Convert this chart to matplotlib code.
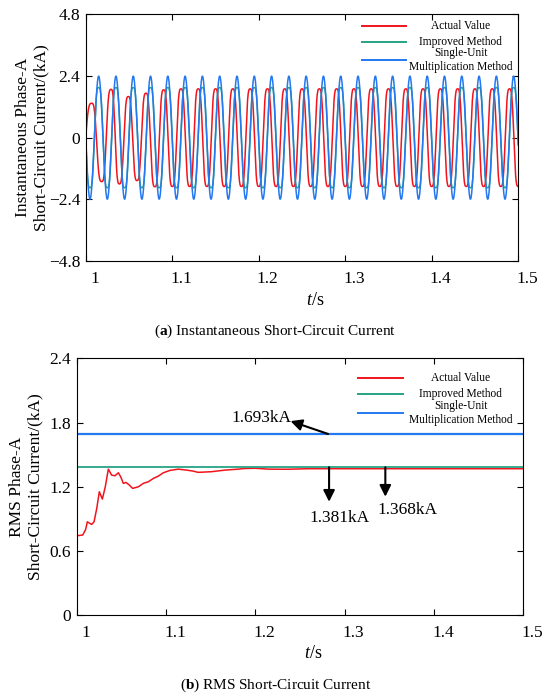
import numpy as np
import matplotlib
matplotlib.use("Agg")
import matplotlib.pyplot as plt
from matplotlib.transforms import ScaledTranslation

plt.rcParams['font.family'] = ['Liberation Serif', 'DejaVu Serif']
plt.rcParams['mathtext.fontset'] = 'custom'
plt.rcParams['mathtext.rm'] = 'Liberation Serif'
plt.rcParams['mathtext.it'] = 'Liberation Serif:italic'
plt.rcParams['mathtext.bf'] = 'Liberation Serif:bold'

RED = '#f2141c'
GREEN = '#26a387'
BLUE = '#2479f0'

labels = ["Actual Value", "Improved Method", "Single-Unit\nMultiplication Method"]

# ---- (a) instantaneous current: extremes (time, value) ----
# actual value, transient part (half-cycle extremes)
red_ext_t = [0.9931, 1.0069, 1.0185, 1.0293, 1.0389, 1.0493, 1.0593, 1.0697, 1.0800, 1.0902]
red_ext_v = [-1.34, 1.34, -1.71, 1.88, -1.80, 1.60, -1.67, 1.73, -1.91, 1.86]
red_steady_peak = 1.90
red_steady_start = 1.1002     # first steady trough
freq = 50.0                   # Hz
imp_peak = 1.95               # improved method peak (kA)
sum_peak = 2.394              # single-unit multiplication peak (kA)
ref_peak_t = 0.995            # a peak time of improved / single-unit waveforms

# ---- (b) RMS current ----
rms_t = [1.0000, 1.0067, 1.0100, 1.0119, 1.0140, 1.0167, 1.0194, 1.0225, 1.0253, 1.0287,
         1.0320, 1.0354, 1.0391, 1.0429, 1.0466, 1.0492, 1.0522, 1.0552, 1.0589, 1.0626,
         1.0690, 1.0746, 1.0802, 1.0858, 1.0914, 1.0970, 1.1044, 1.1137, 1.1230, 1.1300,
         1.1360, 1.1510, 1.1660, 1.1810, 1.1880, 1.2000, 1.2150, 1.2350, 1.2600, 1.3000,
         1.4000, 1.5000]
rms_v = [0.741, 0.748, 0.800, 0.872, 0.860, 0.847, 0.872, 1.000, 1.153, 1.084,
         1.200, 1.364, 1.308, 1.302, 1.330, 1.293, 1.231, 1.240, 1.215, 1.184,
         1.199, 1.231, 1.246, 1.277, 1.299, 1.330, 1.352, 1.364, 1.355, 1.346,
         1.334, 1.340, 1.355, 1.364, 1.370, 1.372, 1.364, 1.363, 1.368, 1.368,
         1.368, 1.368]
rms_improved = 1.381
rms_single = 1.693


def wave(ext_t, ext_v, flat=0.0, n=30):
    """Join successive extremes with half-cycle shapes (flat > 0 flattens the tops)."""
    ts, vs = [], []
    s = np.linspace(0, 1, n, endpoint=False)
    shape = (-np.cos(np.pi * s) + flat * np.cos(3 * np.pi * s)) / (1 - flat)
    for i in range(len(ext_t) - 1):
        ts.append(ext_t[i] + s * (ext_t[i + 1] - ext_t[i]))
        vs.append(ext_v[i] + (ext_v[i + 1] - ext_v[i]) * (shape + 1) / 2)
    ts.append([ext_t[-1]])
    vs.append([ext_v[-1]])
    return np.concatenate(ts), np.concatenate(vs)


half = 0.5 / freq
# actual value: transient extremes followed by steady alternating extremes
st_t = np.arange(red_steady_start, 1.5 + half, half)
st_v = red_steady_peak * np.where(np.arange(len(st_t)) % 2 == 0, -1, 1)
t_red, v_red = wave(red_ext_t + list(st_t), red_ext_v + list(st_v), flat=0.1)
# improved / single-unit: steady sinusoids
ref_t = np.arange(ref_peak_t, 1.5 + 2 * half, half)
sign = np.where(np.arange(len(ref_t)) % 2 == 0, 1, -1)
t_imp, v_imp = wave(list(ref_t), list(imp_peak * sign), flat=0.1)
t_sum, v_sum = wave(list(ref_t), list(sum_peak * sign), flat=0.0)

fig = plt.figure(figsize=(5.5, 6.97), dpi=100)
ax1 = fig.add_axes([0.1558, 0.6255, 0.786, 0.354])
ax2 = fig.add_axes([0.1395, 0.1176, 0.8118, 0.3683])

ax1.plot(t_red, v_red, color=RED, lw=1.1)
ax1.plot(t_imp, v_imp, color=GREEN, lw=1.1)
ax1.plot(t_sum, v_sum, color=BLUE, lw=1.1)
ax1.set_ylim(-4.8, 4.8)
ax1.set_yticks([-4.8, -2.4, 0, 2.4, 4.8])
ax1.set_yticklabels(['\u22124.8', '\u22122.4', '0', '2.4', '4.8'])
ax1.set_ylabel("Instantaneous Phase-A\nShort-Circuit Current/(kA)", fontsize=12.5)
ax1.yaxis.set_label_coords(-0.083, 0.5)

ax2.plot(rms_t, rms_v, color=RED, lw=1.1)
ax2.plot([1.0, 1.5], [rms_improved, rms_improved], color=GREEN, lw=1.3)
ax2.plot([1.0, 1.5], [rms_single, rms_single], color=BLUE, lw=1.6)
ax2.set_ylim(0, 2.4)
ax2.set_yticks([0, 0.6, 1.2, 1.8, 2.4])
ax2.set_yticklabels(['0', '0.6', '1.2', '1.8', '2.4'])
ax2.set_ylabel("RMS Phase-A\nShort-Circuit Current/(kA)", fontsize=12.5)
ax2.yaxis.set_label_coords(-0.075, 0.5)

# annotations
arrow = dict(arrowstyle='-|>', color='black', lw=1.5, mutation_scale=17, shrinkA=0, shrinkB=0)
ax2.annotate('', xy=(1.2394, 1.813), xytext=(1.2814, rms_single), arrowprops=arrow)
ax2.annotate('', xy=(1.2826, 1.059), xytext=(1.2826, rms_improved), arrowprops=arrow)
ax2.annotate('', xy=(1.3456, 1.106), xytext=(1.3456, rms_improved), arrowprops=arrow)
ax2.text(1.2069, 1.844, "1.693kA", fontsize=12.5, ha='center', va='center')
ax2.text(1.2945, 0.904, "1.381kA", fontsize=12.5, ha='center', va='center')
ax2.text(1.370, 0.981, "1.368kA", fontsize=12.5, ha='center', va='center')

shift = ScaledTranslation(0.09, 0, fig.dpi_scale_trans)
legend_pos = {
    ax1: (0.6385, 0.741, 0.868, [0.9526, 0.8877, 0.8148]),
    ax2: (0.6293, 0.7315, 0.860, [0.922, 0.861, 0.788]),
}
for ax in (ax1, ax2):
    ax.set_xlim(1.0, 1.5)
    ax.set_xticks([1.0, 1.1, 1.2, 1.3, 1.4, 1.5])
    ax.set_xticklabels(['1', '1.1', '1.2', '1.3', '1.4', '1.5'])
    ax.tick_params(direction='in', top=True, right=True, length=4, width=0.8,
                   labelsize=12.5)
    ax.tick_params(axis='x', pad=7)
    ax.tick_params(axis='y', pad=4)
    for lab in ax.get_xticklabels():
        lab.set_transform(lab.get_transform() + shift)
    for sp in ax.spines.values():
        sp.set_linewidth(0.8)
    ax.set_xlabel('$t$/s', fontsize=13)
    # manual legend with centred text
    x0, x1, xc, rows = legend_pos[ax]
    for lab, col, y in zip(labels, [RED, GREEN, BLUE], rows):
        ax.plot([x0, x1], [y, y], color=col, lw=1.4, transform=ax.transAxes)
        ax.text(xc, y, lab, ha='center', va='center', ma='center', fontsize=8.3,
                linespacing=1.25, transform=ax.transAxes)

ax1.xaxis.set_label_coords(0.53, -0.125)
ax2.xaxis.set_label_coords(0.53, -0.115)

fig.text(0.501, 0.524, r'($\mathbf{a}$) Instantaneous Short-Circuit Current',
         ha='center', va='center', fontsize=11)
fig.text(0.501, 0.0172, r'($\mathbf{b}$) RMS Short-Circuit Current',
         ha='center', va='center', fontsize=11)

fig.savefig("out.png", dpi=100)
